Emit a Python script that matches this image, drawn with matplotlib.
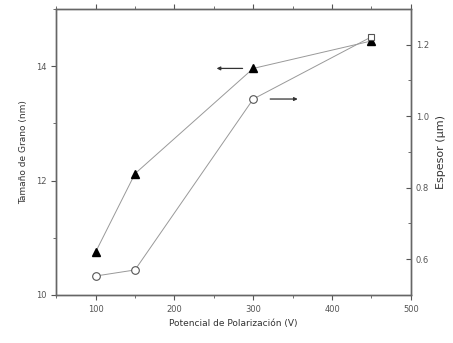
import matplotlib
matplotlib.use('Agg')
import matplotlib.pyplot as plt
from matplotlib.ticker import MultipleLocator

# Values.
potencial = [100, 150, 300, 450]
tamano_grano = [10.75, 12.12, 13.96, 14.44]
espesor = [0.553, 0.57, 1.048, 1.222]

fig = plt.figure(figsize=(4.53, 3.43), dpi=100)
ax = fig.add_axes([0.124, 0.140, 0.783, 0.834])
ax2 = ax.twinx()

# Grain size (left axis): filled triangles.
ax.plot(potencial, tamano_grano, color='#999999', lw=0.7, zorder=2)
ax.plot(potencial, tamano_grano, ls='none', marker='^', ms=6, color='black', zorder=3)

# Thickness (right axis): open circles, last point drawn as an open square.
ax2.plot(potencial, espesor, color='#999999', lw=0.7)
ax2.plot(potencial[:-1], espesor[:-1], ls='none', marker='o', ms=5.5,
         mfc='white', mec='#555555', mew=0.8)
ax2.plot(potencial[-1:], espesor[-1:], ls='none', marker='s', ms=5,
         mfc='white', mec='#555555', mew=0.8)

ax.set_xlim(50, 500)
ax.set_ylim(10, 15)
ax2.set_ylim(0.5, 1.3)

ax.xaxis.set_major_locator(MultipleLocator(100))
ax.xaxis.set_minor_locator(MultipleLocator(50))
ax.yaxis.set_major_locator(MultipleLocator(2))
ax.yaxis.set_minor_locator(MultipleLocator(1))
ax2.yaxis.set_major_locator(MultipleLocator(0.2))
ax2.yaxis.set_minor_locator(MultipleLocator(0.1))
ax2.yaxis.set_major_formatter(lambda v, p: f'{v:.1f}')

ax.tick_params(axis='both', which='both', labelsize=6, colors='#555555')
ax.tick_params(axis='x', which='both', top=True, direction='out')
ax.tick_params(axis='x', which='major', length=3.5)
ax.tick_params(axis='x', which='minor', length=2)
ax.tick_params(axis='y', which='major', direction='out', length=3.5)
ax.tick_params(axis='y', which='minor', direction='out', length=2)
ax2.tick_params(axis='y', which='both', labelsize=6, colors='#555555', direction='in')
ax2.tick_params(axis='y', which='major', length=3.5)
ax2.tick_params(axis='y', which='minor', length=2)

for a in (ax, ax2):
    for s in a.spines.values():
        s.set_color('#666666')
        s.set_linewidth(1.0)

ax.set_xlabel('Potencial de Polarización (V)', fontsize=6.5, color='#333333', labelpad=4)
ax.set_ylabel('Tamaño de Grano (nm)', fontsize=6.5, color='#333333', labelpad=6)
ax2.set_ylabel('Espesor (µm)', fontsize=8, color='#333333', labelpad=5)

# Arrows pointing to each series' axis.
ax.annotate('', xy=(250, 13.96), xytext=(290, 13.96),
            arrowprops=dict(arrowstyle='-|>', color='#333333', lw=0.9, mutation_scale=5))
ax2.annotate('', xy=(360, 1.048), xytext=(318, 1.048),
             arrowprops=dict(arrowstyle='-|>', color='#333333', lw=0.9, mutation_scale=5))

fig.savefig('out.png', dpi=100)
